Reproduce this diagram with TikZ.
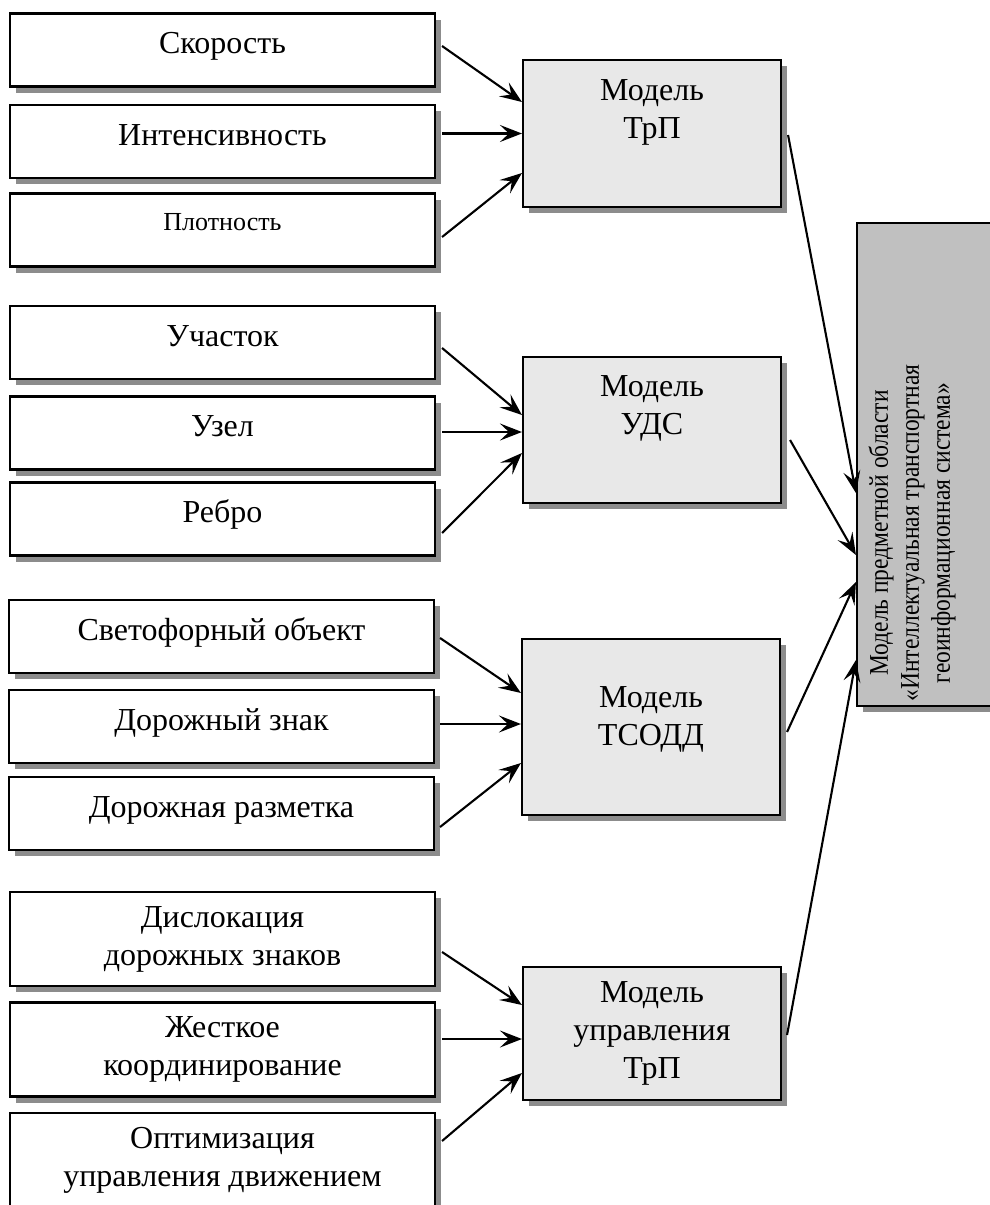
\documentclass[tikz,border=0pt]{standalone}
\usepackage{fontspec}
\setmainfont{Liberation Serif}
\newfontfamily\narrowserif[FakeStretch=0.87]{Liberation Serif}
\usetikzlibrary{arrows.meta,shadows}
\definecolor{modelgray}{HTML}{E8E8E8}
\definecolor{biggray}{HTML}{C0C0C0}

\begin{document}
\begin{tikzpicture}[x=1pt,y=-1pt,
  box/.style={draw,line width=2.1pt,fill=white,minimum width=425pt,
    font=\fontsize{32}{38}\selectfont,
    drop shadow={shadow xshift=6pt,shadow yshift=-6pt,fill=black!45,opacity=1}},
  onebox/.style={box,minimum height=73pt,text height=25pt,text depth=18pt},
  twobox/.style={box,align=center,minimum height=94pt},
  model/.style={box,align=center,fill=modelgray,minimum width=258pt},
  arr/.style={line width=2.1pt,-{Stealth[length=22pt,width=17pt,inset=9pt]}}]
\useasboundingbox (0,0) rectangle (990,1205);

\node[onebox] (s1) at (222.5,50) {Скорость};
\node[onebox] (s2) at (222.5,141.5) {Интенсивность};
\node[onebox,font=\fontsize{26}{31}\selectfont,text height=16pt,text depth=16pt] (s3) at (222.5,230) {Плотность};
\node[onebox] (u1) at (222.5,342.5) {Участок};
\node[onebox] (u2) at (222.5,433) {Узел};
\node[onebox] (u3) at (222.5,519) {Ребро};
\node[onebox] (t1) at (221.5,636.5) {Светофорный объект};
\node[onebox] (t2) at (221.5,726.5) {Дорожный знак};
\node[onebox] (t3) at (221.5,813.5) {Дорожная разметка};
\node[twobox] (r1) at (222.5,939) {Дислокация\\дорожных знаков};
\node[twobox] (r2) at (222.5,1049.5) {Жесткое\\координирование};
\node[twobox] (r3) at (222.5,1160) {Оптимизация\\управления движением};

\node[model,minimum height=147pt] (m1) at (652,133.5) {Модель\\ТрП\\\strut};
\node[model,minimum height=146pt] (m2) at (652,430) {Модель\\УДС\\\strut};
\node[model,minimum height=176pt] (m3) at (651,727) {Модель\\ТСОДД\\[-28pt]\strut};
\node[model,minimum height=133pt] (m4) at (652,1033.5) {Модель\\управления\\ТрП};

\node[box,fill=biggray,minimum width=143pt,minimum height=483pt] (big) at (928.5,464.5) {};
\node[rotate=90,align=center,font=\narrowserif\fontsize{27}{31}\selectfont] (bigtxt) at (912,533)
  {Модель предметной области\\«Интеллектуальная транспортная\\геоинформационная система»};

\draw[arr] ([xshift=6pt,yshift=4pt]s1.east) -- ([yshift=31.5pt]m1.west);
\draw[arr] ([xshift=6pt,yshift=8pt]s2.east) -- (m1.west);
\draw[arr] ([xshift=6pt,yshift=-7pt]s3.east) -- ([yshift=-39.5pt]m1.west);

\draw[arr] ([xshift=6pt,yshift=-5.5pt]u1.east) -- ([yshift=15pt]m2.west);
\draw[arr] ([xshift=6pt,yshift=1pt]u2.east) -- ([yshift=-2pt]m2.west);
\draw[arr] ([xshift=6pt,yshift=-14pt]u3.east) -- ([yshift=-23pt]m2.west);

\draw[arr] ([xshift=5pt,yshift=-1.5pt]t1.east) -- ([yshift=34pt]m3.west);
\draw[arr] ([xshift=5pt,yshift=2.5pt]t2.east) -- ([yshift=3pt]m3.west);
\draw[arr] ([xshift=5pt,yshift=-13.5pt]t3.east) -- ([yshift=-36pt]m3.west);

\draw[arr] ([xshift=6pt,yshift=-13pt]r1.east) -- ([yshift=28.5pt]m4.west);
\draw[arr] ([xshift=6pt,yshift=10.5pt]r2.east) -- ([yshift=-5.5pt]m4.west);
\draw[arr] ([xshift=6pt,yshift=19pt]r3.east) -- ([yshift=-39.5pt]m4.west);

\draw[arr] ([xshift=6pt,yshift=-1.5pt]m1.east) -- ([yshift=-28.5pt]big.west);
\draw[arr] ([xshift=8pt,yshift=-10pt]m2.east) -- ([yshift=-90.5pt]big.west);
\draw[arr] ([xshift=6pt,yshift=-5pt]m3.east) -- ([yshift=-117.5pt]big.west);
\draw[arr] ([xshift=5pt,yshift=-1.5pt]m4.east) -- ([yshift=-195.5pt]big.west);
\end{tikzpicture}
\end{document}
